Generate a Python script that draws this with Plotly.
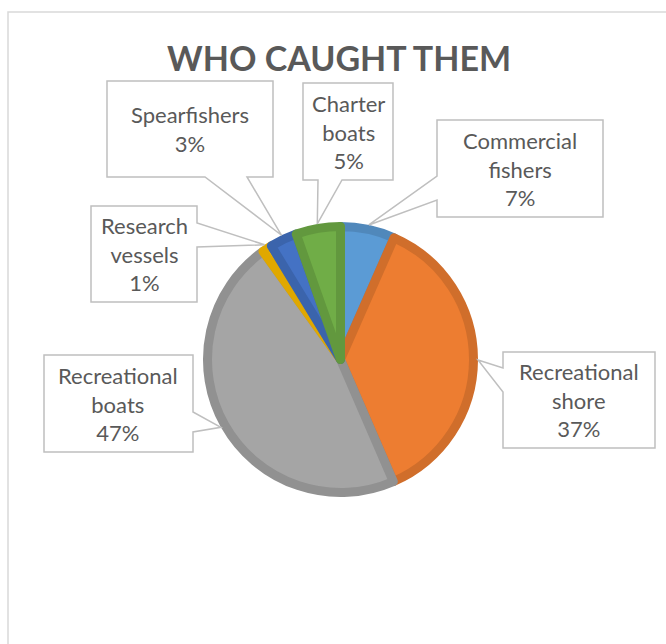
import math
import plotly.graph_objects as go

# ---- data ----
labels = ["Commercial fishers", "Recreational shore", "Recreational boats",
          "Research vessels", "Spearfishers", "Charter boats"]
label_lines = ["Commercial<br>fishers", "Recreational<br>shore", "Recreational<br>boats",
               "Research<br>vessels", "Spearfishers", "Charter<br>boats"]
values = [6.6, 36.9, 46.6, 1.2, 3.3, 5.4]
colors = ["#5B9BD5", "#ED7D31", "#A5A5A5", "#FFC000", "#4472C4", "#70AD47"]
title_text = "WHO CAUGHT THEM"

# ---- layout constants (pixels) ----
W, H = 666, 644
CX, CY = 340.5, 359.5
R_OUT = 137.5
LINE_W = 9
R_DOM = R_OUT - LINE_W / 2

# callout boxes: (x0, y0, x1, y1, side, a1, a2)
boxes = [
    (437, 120, 603, 217, "left", 176, 200),
    (503, 352, 655, 448, "left", 368, 392),
    (44, 355, 193, 452, "right", 412, 432),
    (91, 206, 197, 302, "right", 223, 247),
    (107, 81, 273, 177, "bottom", 205, 247),
    (303, 83, 393, 180, "bottom", 318, 342),
]


def px(x):
    return x / W


def py(y):
    return 1 - y / H


def darker(hexc, f=0.88):
    r, g, b = int(hexc[1:3], 16), int(hexc[3:5], 16), int(hexc[5:7], 16)
    return "#%02X%02X%02X" % (int(r * f), int(g * f), int(b * f))


total = sum(values)

fig = go.Figure(go.Pie(
    labels=labels,
    values=values,
    sort=False,
    direction="clockwise",
    rotation=0,
    textinfo="none",
    hoverinfo="label+percent",
    marker=dict(colors=colors,
                line=dict(color=[darker(c) for c in colors], width=LINE_W)),
    domain=dict(x=[px(CX - R_DOM), px(CX + R_DOM)],
                y=[py(CY + R_DOM), py(CY - R_DOM)]),
    showlegend=False,
))

shapes = [dict(type="rect", xref="paper", yref="paper",
               x0=px(8), y0=py(12), x1=px(W + 20), y1=py(H + 20),
               line=dict(color="#D9D9D9", width=1.5), fillcolor="rgba(0,0,0,0)",
               layer="below")]
annotations = []

cum = 0.0
for i, v in enumerate(values):
    mid = (cum + v / 2) / total
    cum += v
    ang = 2 * math.pi * mid
    tx = CX + R_OUT * math.sin(ang)
    ty = CY - R_OUT * math.cos(ang)
    x0, y0, x1, y1, side, a1, a2 = boxes[i]
    if side == "left":
        pts = [(x0, y0), (x1, y0), (x1, y1), (x0, y1), (x0, a2), (tx, ty), (x0, a1)]
    elif side == "right":
        pts = [(x0, y0), (x1, y0), (x1, a1), (tx, ty), (x1, a2), (x1, y1), (x0, y1)]
    else:
        pts = [(x0, y0), (x1, y0), (x1, y1), (a2, y1), (tx, ty), (a1, y1), (x0, y1)]
    path = "M " + " L ".join("%.5f,%.5f" % (px(a), py(b)) for a, b in pts) + " Z"
    shapes.append(dict(type="path", xref="paper", yref="paper", path=path,
                       fillcolor="white", line=dict(color="#BFBFBF", width=1.5),
                       layer="above"))
    pct = "%.0f%%" % (v / total * 100)
    annotations.append(dict(
        xref="paper", yref="paper",
        x=px((x0 + x1) / 2), y=py((y0 + y1) / 2),
        xanchor="center", yanchor="middle",
        text=label_lines[i] + "<br>" + pct,
        showarrow=False, align="center",
        font=dict(family="Lato", size=22, color="#595959"),
    ))

annotations.append(dict(
    xref="paper", yref="paper", x=px(339), y=py(57),
    xanchor="center", yanchor="middle", text="<b>" + title_text + "</b>",
    showarrow=False, font=dict(family="Lato", size=34, color="#595959"),
))

fig.update_layout(
    width=W, height=H,
    margin=dict(l=0, r=0, t=0, b=0),
    paper_bgcolor="white", plot_bgcolor="white",
    shapes=shapes, annotations=annotations,
)

fig.write_html("out.html")
